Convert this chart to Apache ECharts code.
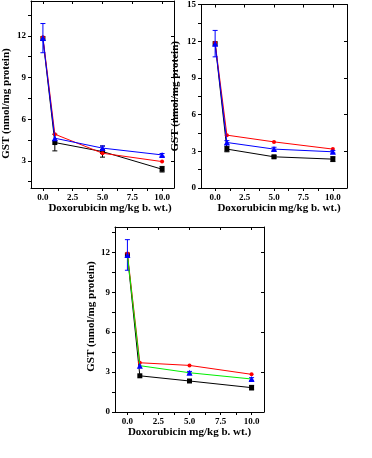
<!DOCTYPE html>
<html><head><meta charset="utf-8">
<script src="https://cdn.jsdelivr.net/npm/echarts@6/dist/echarts.min.js"></script>
<style>html,body{margin:0;padding:0;background:#fff}#c{width:372px;height:458px}</style>
</head><body><div id="c"></div>
<script>
// ---- data ----
const doses = [0, 1, 5, 10];
const xTickLabels = [0, 2.5, 5, 7.5, 10];
const xTickMarks = [0, 1.25, 2.5, 3.75, 5, 6.25, 7.5, 8.75, 10];
// Panel A (top left)
const a_black = [11.8, 4.32, 3.67, 2.4];
const a_red = [11.9, 4.92, 3.55, 2.95];
const a_blue = [11.83, 4.63, 3.92, 3.43];
const a_blackErr = [0, 0.6, 0.4, 0.2];
const a_blueErr = [1.05, 0, 0.15, 0.1];
// Panel B (top right)
const b_black = [11.8, 3.18, 2.55, 2.36];
const b_red = [11.87, 4.32, 3.77, 3.18];
const b_blue = [11.8, 3.72, 3.18, 2.96];
const b_blackErr = [0, 0.22, 0.1, 0.2];
const b_blueErr = [1.08, 0.15, 0.15, 0.1];
// Panel C (bottom)
const c_black = [11.8, 2.72, 2.33, 1.83];
const c_red = [11.9, 3.7, 3.5, 2.83];
const c_blue = [11.8, 3.48, 2.95, 2.48];
const c_blackErr = [0, 0, 0, 0.17];
const c_blueErr = [1.15, 0, 0.1, 0.1];
// y ticks
const yLabelsA = [3, 6, 9, 12];
const yTicksA = [1.5, 3, 4.5, 6, 7.5, 9, 10.5, 12, 13.5];
const yLabelsB = [0, 3, 6, 9, 12, 15];
const yTicksB = [0, 1.5, 3, 4.5, 6, 7.5, 9, 10.5, 12, 13.5, 15];
const yLabelsC = [0, 3, 6, 9, 12];
const yTicksC = [0, 1.5, 3, 4.5, 6, 7.5, 9, 10.5, 12, 13.5];
const yName = 'GST (nmol/mg protein)';
const xName = 'Doxorubicin mg/kg b. wt.)';

// ---- layout ----
const FONT = 'Liberation Serif';
const panels = [
  {grid:{left:31, top:1, width:143, height:187}, xr:[-1,11], yr:[1.05,14.5], yl:yLabelsA, yt:yTicksA, yGap:19, yPad:[0,18,0,0], xGap:13, xPad:[0,0,0,15],
   black:a_black, red:a_red, blue:a_blue, blackErr:a_blackErr, blueErr:a_blueErr, blueLine:'#0000ff'},
  {grid:{left:201, top:4, width:146, height:184}, xr:[-1.2,11.2], yr:[0,15], yl:yLabelsB, yt:yTicksB, yGap:20, yPad:[0,0,0,0], xGap:13, xPad:[0,0,0,10],
   black:b_black, red:b_red, blue:b_blue, blackErr:b_blackErr, blueErr:b_blueErr, blueLine:'#0000ff'},
  {grid:{left:115, top:227, width:149, height:185}, xr:[-1,11], yr:[0,13.9], yl:yLabelsC, yt:yTicksC, yGap:14, yPad:[0,0,0,6], xGap:14, xPad:[0,0,0,0],
   black:c_black, red:c_red, blue:c_blue, blackErr:c_blackErr, blueErr:c_blueErr, blueLine:'#00ee00'}
];

function pairs(vals){ return doses.map((d,i)=>[d, vals[i]]); }
function errData(vals, errs){
  const out = [];
  doses.forEach((d,i)=>{ if (errs[i] > 0) out.push([d, vals[i]-errs[i], vals[i]+errs[i]]); });
  return out;
}
function errRender(color){
  return function(params, api){
    const x = api.value(0), lo = api.value(1), hi = api.value(2);
    const pLo = api.coord([x, lo]), pHi = api.coord([x, hi]);
    const w = 2.5, st = {stroke: color, lineWidth: 1};
    return {type:'group', children:[
      {type:'line', shape:{x1:pLo[0],y1:pLo[1],x2:pHi[0],y2:pHi[1]}, style:st},
      {type:'line', shape:{x1:pLo[0]-w,y1:pLo[1],x2:pLo[0]+w,y2:pLo[1]}, style:st},
      {type:'line', shape:{x1:pHi[0]-w,y1:pHi[1],x2:pHi[0]+w,y2:pHi[1]}, style:st}
    ]};
  };
}

const option = {animation:false, backgroundColor:'#fff', grid:[], xAxis:[], yAxis:[], series:[]};
const axLine = {show:true, onZero:false, lineStyle:{color:'#000', width:1}};
panels.forEach((p, k)=>{
  option.grid.push(p.grid);
  option.xAxis.push({type:'value', gridIndex:k, position:'bottom', min:p.xr[0], max:p.xr[1],
    axisLine:axLine, splitLine:{show:false},
    axisTick:{show:true, inside:false, length:3, customValues:xTickMarks, lineStyle:{color:'#000'}},
    axisLabel:{customValues:xTickLabels, formatter:v=>v.toFixed(1), margin:5, fontFamily:FONT, fontWeight:'bold', fontSize:9, color:'#000'},
    name:xName, nameLocation:'middle', nameGap:p.xGap,
    nameTextStyle:{fontFamily:FONT, fontWeight:'bold', fontSize:11, color:'#000', padding:p.xPad}});
  option.xAxis.push({type:'value', gridIndex:k, position:'top', min:p.xr[0], max:p.xr[1],
    axisLine:axLine, splitLine:{show:false},
    axisTick:{show:true, inside:true, length:3, customValues:xTickLabels, lineStyle:{color:'#000'}},
    axisLabel:{show:false}});
  option.yAxis.push({type:'value', gridIndex:k, position:'left', min:p.yr[0], max:p.yr[1],
    axisLine:axLine, splitLine:{show:false},
    axisTick:{show:true, inside:false, length:3, customValues:p.yt, lineStyle:{color:'#000'}},
    axisLabel:{customValues:p.yl, margin:5, fontFamily:FONT, fontWeight:'bold', fontSize:9, color:'#000'},
    name:yName, nameLocation:'middle', nameGap:p.yGap,
    nameTextStyle:{fontFamily:FONT, fontWeight:'bold', fontSize:11, color:'#000', padding:p.yPad}});
  option.yAxis.push({type:'value', gridIndex:k, position:'right', min:p.yr[0], max:p.yr[1],
    axisLine:axLine, splitLine:{show:false},
    axisTick:{show:true, inside:true, length:3, customValues:p.yl, lineStyle:{color:'#000'}},
    axisLabel:{show:false}});
  const xi = 2*k, yi = 2*k;
  const line = (name, vals, lineColor, markColor, symbol, size, z)=>({
    type:'line', name, xAxisIndex:xi, yAxisIndex:yi, data:pairs(vals), z,
    symbol, symbolSize:size, showSymbol:true,
    lineStyle:{color:lineColor, width:1}, itemStyle:{color:markColor}});
  option.series.push(line('black', p.black, '#000', '#000', 'rect', 5, 2));
  option.series.push(line('red', p.red, '#ff0000', '#ff0000', 'circle', 4, 3));
  option.series.push(line('blue', p.blue, p.blueLine, '#0000ff', 'triangle', 6, 4));
  option.series.push({type:'custom', xAxisIndex:xi, yAxisIndex:yi, renderItem:errRender('#000'),
    data:errData(p.black, p.blackErr), encode:{x:0, y:[1,2]}, z:2, clip:false});
  option.series.push({type:'custom', xAxisIndex:xi, yAxisIndex:yi, renderItem:errRender('#0000ff'),
    data:errData(p.blue, p.blueErr), encode:{x:0, y:[1,2]}, z:4, clip:false});
});

const chart = echarts.init(document.getElementById('c'), null, {renderer:'canvas'});
chart.setOption(option);
</script>
</body></html>
